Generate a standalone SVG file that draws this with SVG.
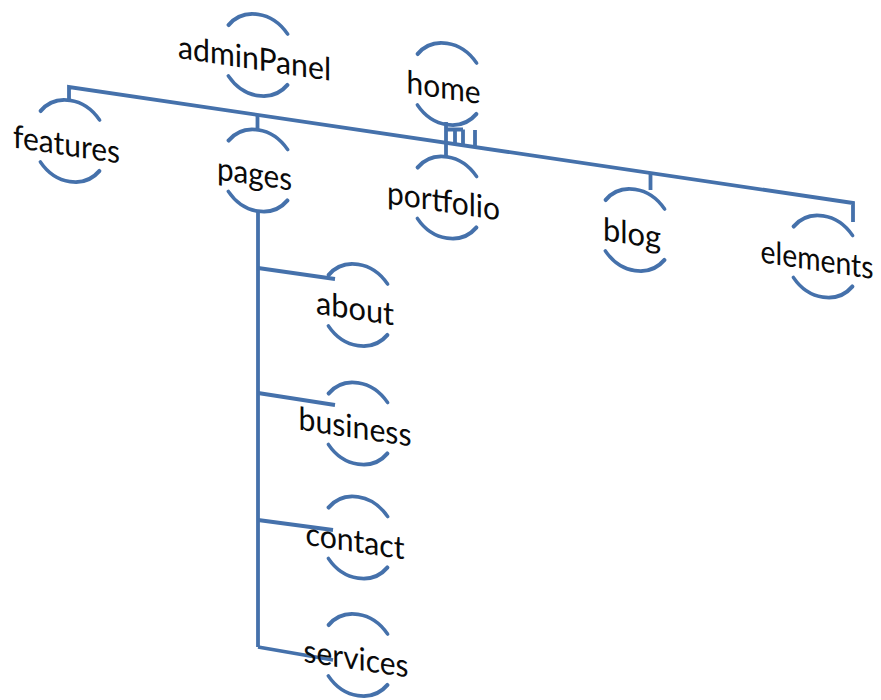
<svg xmlns="http://www.w3.org/2000/svg" width="881" height="700" viewBox="0 0 881 700">
  <style>
    .arc { fill: none; stroke: #4571ab; stroke-width: 3.8; stroke-linecap: round; }
    .wire { fill: none; stroke: #4571ab; stroke-width: 3.8; stroke-linejoin: miter; }
    .lbl { font-family: Lato, "Open Sans", "Liberation Sans", sans-serif; font-size: 32px; fill: #0a0a0a; text-anchor: middle; }
  </style>
  <defs>
    <!-- node outline: upper and lower arcs of an oval, open at the sides -->
    <g id="ring">
      <path class="arc" d="M-29.5,-25.5 A38,41 0 0 1 29.5,-25.5"/>
      <path class="arc" d="M-29.5,25.5 A38,41 0 0 0 29.5,25.5"/>
    </g>
  </defs>

  <!-- connectors -->
  <g id="connectors">
    <path class="wire" d="M69,102 V87 L853,203 V222"/>
    <path class="wire" d="M257.5,115 V131"/>
    <path class="wire" d="M446,122 V158"/>
    <path class="wire" d="M446,129.5 H463 M455,129.5 V144 M463,129.5 V145 M475,130 V147"/>
    <path class="wire" d="M650.5,172 V190"/>
    <path class="wire" d="M258,211 V647"/>
    <path class="wire" d="M258,268 L335,279"/>
    <path class="wire" d="M258,393 L335,405"/>
    <path class="wire" d="M258,520 L333,530"/>
    <path class="wire" d="M258,647 L333,660"/>
  </g>

  <g id="adminPanel" transform="translate(258,55) skewY(8.5)">
    <use href="#ring"/>
    <text class="lbl" x="-3.5" y="15" textLength="153" lengthAdjust="spacingAndGlyphs">adminPanel</text>
  </g>
  <g id="home" transform="translate(447,84) skewY(8.5)">
    <use href="#ring"/>
    <text class="lbl" x="-3.5" y="15" textLength="74" lengthAdjust="spacingAndGlyphs">home</text>
  </g>
  <g id="features" transform="translate(70,141) skewY(8.5)">
    <use href="#ring"/>
    <text class="lbl" x="-3.5" y="15" textLength="107" lengthAdjust="spacingAndGlyphs">features</text>
  </g>
  <g id="pages" transform="translate(258,170.5) skewY(8.5)">
    <use href="#ring"/>
    <text class="lbl" x="-3.5" y="15" textLength="75" lengthAdjust="spacingAndGlyphs">pages</text>
  </g>
  <g id="portfolio" transform="translate(447,197.5) skewY(8.5)">
    <use href="#ring"/>
    <text class="lbl" x="-3.5" y="15" textLength="113" lengthAdjust="spacingAndGlyphs">portfolio</text>
  </g>
  <g id="blog" transform="translate(635,230) skewY(8.5)">
    <use href="#ring"/>
    <text class="lbl" x="-3" y="15" textLength="58" lengthAdjust="spacingAndGlyphs">blog</text>
  </g>
  <g id="elements" transform="translate(823,256.5) skewY(8.5)">
    <use href="#ring"/>
    <text class="lbl" x="-6" y="15" textLength="113" lengthAdjust="spacingAndGlyphs">elements</text>
  </g>
  <g id="about" transform="translate(358,305) skewY(8.5)">
    <use href="#ring"/>
    <text class="lbl" x="-3" y="15" textLength="78" lengthAdjust="spacingAndGlyphs">about</text>
  </g>
  <g id="business" transform="translate(358,423.5) skewY(8.5)">
    <use href="#ring"/>
    <text class="lbl" x="-3" y="15" textLength="113" lengthAdjust="spacingAndGlyphs">business</text>
  </g>
  <g id="contact" transform="translate(358,537.5) skewY(8.5)">
    <use href="#ring"/>
    <text class="lbl" x="-3" y="15" textLength="99" lengthAdjust="spacingAndGlyphs">contact</text>
  </g>
  <g id="services" transform="translate(358,655) skewY(8.5)">
    <use href="#ring"/>
    <text class="lbl" x="-2" y="15" textLength="105" lengthAdjust="spacingAndGlyphs">services</text>
  </g>
</svg>
